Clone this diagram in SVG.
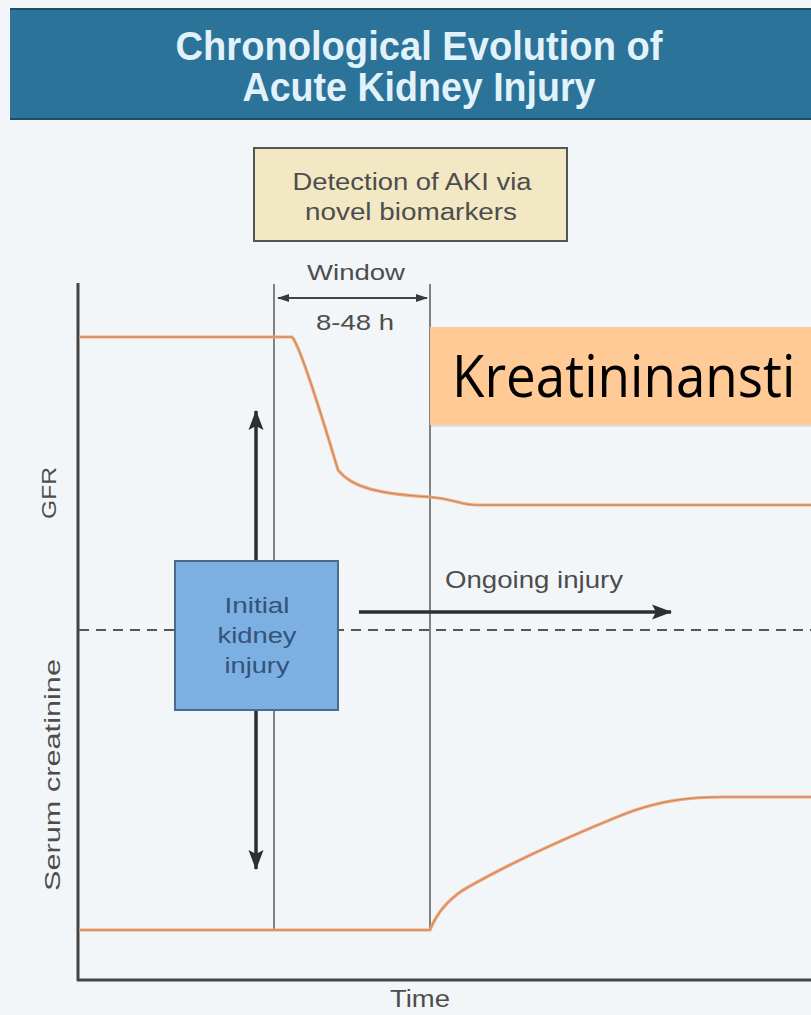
<svg xmlns="http://www.w3.org/2000/svg" width="811" height="1015" viewBox="0 0 811 1015">
<defs>
<style>
.t{font-family:"Liberation Sans",Arial,sans-serif;fill:#4d4d4d;text-anchor:middle}
.orange{fill:none;stroke:#f2a77a;stroke-width:3.2}
.orangec{fill:none;stroke:#8a5a3a;stroke-width:1;opacity:0.45}
.thin{stroke:#5a5a5a;stroke-width:1.5;fill:none}
</style>
<marker id="ah" viewBox="0 0 20 16" refX="19" refY="8" markerWidth="20" markerHeight="16" markerUnits="userSpaceOnUse" orient="auto-start-reverse"><path d="M0,0.5 L20,8 L0,15.5 L4,8 z" fill="#2e2e2e"/></marker>
<marker id="ahs" viewBox="0 0 12 10" refX="11" refY="5" markerWidth="12" markerHeight="10" markerUnits="userSpaceOnUse" orient="auto-start-reverse"><path d="M0,1 L12,5 L0,9 z" fill="#3a3a3a"/></marker>
</defs>
<rect x="0" y="0" width="811" height="1015" fill="#f3f6f9"/>
<g id="title">
<rect x="10" y="8" width="801" height="112" fill="#2b7399"/>
<line x1="10" y1="9" x2="811" y2="9" stroke="#1d4f6a" stroke-width="2"/>
<line x1="10" y1="119" x2="811" y2="119" stroke="#1d4f6a" stroke-width="2"/>
<text x="419" y="60" font-family="Liberation Sans,Arial,sans-serif" font-weight="bold" font-size="40" fill="#e2f2fa" text-anchor="middle" textLength="487" lengthAdjust="spacingAndGlyphs">Chronological Evolution of</text>
<text x="419" y="101" font-family="Liberation Sans,Arial,sans-serif" font-weight="bold" font-size="40" fill="#e2f2fa" text-anchor="middle" textLength="353" lengthAdjust="spacingAndGlyphs">Acute Kidney Injury</text>
</g>
<g id="detection">
<rect x="254" y="148" width="313" height="93" fill="#f2e8c4" stroke="#555" stroke-width="2"/>
<text class="t" x="412" y="190" font-size="23" textLength="239" lengthAdjust="spacingAndGlyphs">Detection of AKI via</text>
<text class="t" x="411" y="220" font-size="23" textLength="212" lengthAdjust="spacingAndGlyphs">novel biomarkers</text>
</g>
<g id="axes">
<line x1="78" y1="283" x2="78" y2="981" stroke="#444" stroke-width="3"/>
<line x1="77" y1="980" x2="811" y2="980" stroke="#444" stroke-width="3"/>
<text class="t" x="420" y="1007" font-size="23" textLength="60" lengthAdjust="spacingAndGlyphs">Time</text>
<text class="t" font-size="21" transform="translate(56,493) rotate(-90)" textLength="52" lengthAdjust="spacingAndGlyphs">GFR</text>
<text class="t" font-size="22" transform="translate(60,775) rotate(-90)" textLength="232" lengthAdjust="spacingAndGlyphs">Serum creatinine</text>
</g>
<g id="window">
<line class="thin" x1="274" y1="284" x2="274" y2="930"/>
<line class="thin" x1="430" y1="284" x2="430" y2="930"/>
<line x1="278" y1="298" x2="427" y2="298" stroke="#444" stroke-width="2" marker-start="url(#ahs)" marker-end="url(#ahs)"/>
<text class="t" x="356" y="280" font-size="22" textLength="98" lengthAdjust="spacingAndGlyphs">Window</text>
<text class="t" x="355" y="330" font-size="22" textLength="78" lengthAdjust="spacingAndGlyphs">8-48 h</text>
</g>
<g id="curves">
<path class="orange" d="M79,337 L292,337 C300,345 320,410 338,470 C352,488 380,494 430,497 C455,499 460,505 477,505 L811,505"/>
<path class="orangec" d="M79,337 L292,337 C300,345 320,410 338,470 C352,488 380,494 430,497 C455,499 460,505 477,505 L811,505"/>
<path class="orange" d="M79,930 L430,930 C436,915 448,898 470,886 C520,858 580,832 622,815 C660,800 690,797 725,797 L811,797"/>
<path class="orangec" d="M79,930 L430,930 C436,915 448,898 470,886 C520,858 580,832 622,815 C660,800 690,797 725,797 L811,797"/>
</g>
<g id="connectors">
<line x1="79" y1="630" x2="811" y2="630" stroke="#555" stroke-width="1.8" stroke-dasharray="10,7"/>
<line x1="256" y1="411" x2="256" y2="561" stroke="#2e2e2e" stroke-width="3.5" marker-start="url(#ah)"/>
<line x1="256" y1="710" x2="256" y2="869" stroke="#2e2e2e" stroke-width="3.5" marker-end="url(#ah)"/>
<line x1="359" y1="612" x2="671" y2="612" stroke="#2e2e2e" stroke-width="3.5" marker-end="url(#ah)"/>
<text class="t" x="534" y="588" font-size="24" textLength="178" lengthAdjust="spacingAndGlyphs">Ongoing injury</text>
</g>
<g id="initial">
<rect x="175" y="561" width="163" height="149" fill="#7cb0e2" stroke="#4a6a8e" stroke-width="2"/>
<text class="t" x="257" y="613" font-size="22" textLength="65" lengthAdjust="spacingAndGlyphs" style="fill:#35527a">Initial</text>
<text class="t" x="257" y="643" font-size="22" textLength="79" lengthAdjust="spacingAndGlyphs" style="fill:#35527a">kidney</text>
<text class="t" x="257" y="673" font-size="22" textLength="65" lengthAdjust="spacingAndGlyphs" style="fill:#35527a">injury</text>
</g>
<g id="overlay">
<rect x="431" y="329" width="382" height="98" fill="#9aa4b0" opacity="0.25"/>
<rect x="430" y="327" width="381" height="98" fill="#ffca96"/>
<text transform="translate(452,397) scale(1,1.12)" font-family="'Open Sans','Noto Sans',sans-serif" font-size="53" fill="#000">Kreatininansti</text>
</g>
</svg>
